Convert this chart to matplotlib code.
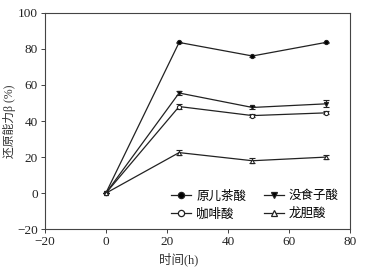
import numpy as np
import matplotlib.pyplot as plt

plt.rcParams['font.family'] = ['Liberation Serif', 'Noto Sans CJK SC']

# data
hours = [0, 24, 48, 72]
names = ['原儿茶酸', '咖啡酸', '没食子酸', '龙胆酸']
markers = ['o', 'o', 'v', '^']
fills = ['k', 'white', 'k', 'white']
values = [
    [0, 83.5, 76.0, 83.5],
    [0, 48.0, 43.0, 44.5],
    [0, 55.5, 47.5, 49.5],
    [0, 22.5, 18.0, 20.0],
]
errors = [
    [0, 0.5, 0.4, 0.5],
    [0, 1.5, 0.8, 0.8],
    [0, 1.0, 1.0, 2.0],
    [0, 1.5, 1.5, 1.0],
]

fig = plt.figure(figsize=(3.68, 2.75), dpi=100)
ax = fig.add_axes([0.1215, 0.166, 0.83, 0.788])

handles = []
for name, m, fc, y, e in zip(names, markers, fills, values, errors):
    ax.errorbar(hours, y, yerr=e, color='#222222', lw=0.9, capsize=2.5,
                elinewidth=0.8, capthick=0.8, marker=m, ms=3,
                mfc=fc, mec='#222222', mew=0.8)
    h, = ax.plot([], [], color='#222222', lw=0.9, marker=m, ms=4.5,
                 mfc=fc, mec='#222222', mew=0.9, label=name)
    handles.append(h)

ax.set_xlim(-20, 80)
ax.set_ylim(-20, 100)
ax.set_xticks(np.arange(-20, 81, 20))
ax.set_yticks(np.arange(-20, 101, 20))
ax.tick_params(axis='both', labelsize=9.5, direction='out', length=3, width=0.6,
               colors='#222222', pad=2)
for s in ax.spines.values():
    s.set_linewidth(0.8)
    s.set_color('#444444')

ax.set_xlabel('时间(h)', fontsize=9, color='#333333')
ax.xaxis.set_label_coords(0.44, -0.105)
ax.set_ylabel('还原能力β (%)', fontsize=8.5, color='#333333')
ax.yaxis.set_label_coords(-0.095, 0.5)

ax.legend(handles=handles, ncol=2, loc='lower right', frameon=False,
          fontsize=9, handlelength=1.6, handletextpad=0.4, columnspacing=1.4,
          labelspacing=0.45, bbox_to_anchor=(1.0, -0.01))

fig.savefig('out.png', dpi=100)
